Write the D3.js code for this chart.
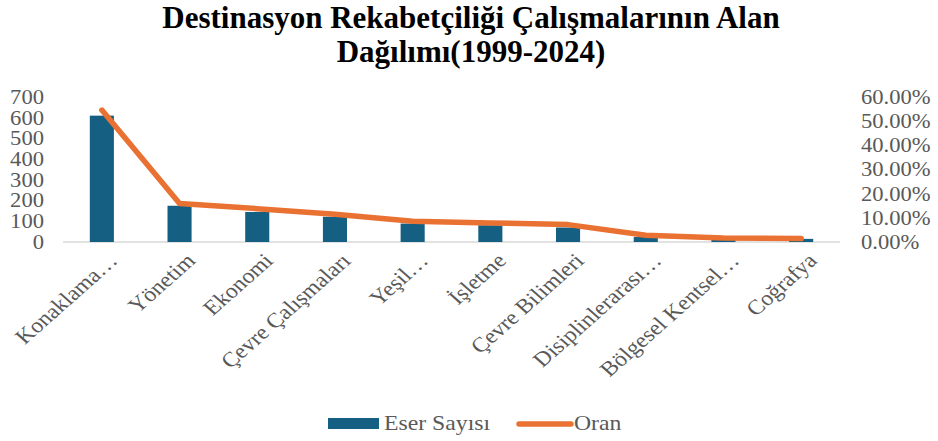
<!DOCTYPE html>
<html>
<head>
<meta charset="utf-8">
<script src="https://cdn.jsdelivr.net/npm/d3@7"></script>
<style>
  body { margin: 0; background: #fff; }
  text { font-family: "Liberation Serif", "Times New Roman", serif; }
</style>
</head>
<body>
<svg id="chart" width="938" height="441"></svg>
<script>
const categories = ["Konaklama…", "Yönetim", "Ekonomi", "Çevre Çalışmaları", "Yeşil…",
  "İşletme", "Çevre Bilimleri", "Disiplinlerarası…", "Bölgesel Kentsel…", "Coğrafya"];
const eserSayisi = [610, 175, 145, 122, 89, 81, 70, 24, 14, 15];
const oran = [0.546, 0.159, 0.138, 0.115, 0.086, 0.079, 0.072, 0.028, 0.017, 0.014];
const leftTicks = [0, 100, 200, 300, 400, 500, 600, 700];
const rightTicks = [0, 0.1, 0.2, 0.3, 0.4, 0.5, 0.6];

const svg = d3.select("#chart");
const width = +svg.attr("width");
const margin = { top: 97, bottom: 242, left: 63, right: 840 };
const barColor = "#156082";
const lineColor = "#E97132";
const textColor = "#595959";
const stretch = "scale(1.13,1)"; // labels in the picture are a bit wide

const x = d3.scaleBand()
  .domain(categories)
  .range([margin.left, margin.right])
  .paddingInner(0.69)
  .paddingOuter(0.345);

const y = d3.scaleLinear().domain([0, 700]).range([margin.bottom, margin.top]);
const y2 = d3.scaleLinear().domain([0, 0.6]).range([margin.bottom, margin.top]);

// title
svg.append("text")
  .attr("text-anchor", "middle")
  .attr("font-weight", "bold")
  .attr("font-size", 31)
  .attr("fill", "#000")
  .selectAll("tspan")
  .data(["Destinasyon Rekabetçiliği Çalışmalarının Alan", "Dağılımı(1999-2024)"])
  .enter()
  .append("tspan")
  .attr("x", width / 2 + 2)
  .attr("y", (d, i) => 28 + i * 34)
  .text(d => d);

// base line
svg.append("line")
  .attr("x1", margin.left)
  .attr("x2", margin.right)
  .attr("y1", y(0))
  .attr("y2", y(0))
  .attr("stroke", "#d9d9d9")
  .attr("stroke-width", 1.5);

// left axis
const leftAxis = svg.append("g")
  .attr("transform", `translate(44,0)`)
  .call(d3.axisLeft(y).tickValues(leftTicks).tickSize(0).tickPadding(0));
leftAxis.select(".domain").remove();
leftAxis.selectAll("text")
  .attr("font-size", 20)
  .attr("font-family", "Liberation Serif, serif")
  .attr("fill", textColor)
  .attr("transform", stretch);

// right axis
const rightAxis = svg.append("g")
  .attr("transform", `translate(861,0)`)
  .call(d3.axisRight(y2).tickValues(rightTicks).tickSize(0).tickPadding(0).tickFormat(d3.format(".2%")));
rightAxis.select(".domain").remove();
rightAxis.selectAll("text")
  .attr("font-size", 20)
  .attr("font-family", "Liberation Serif, serif")
  .attr("fill", textColor)
  .attr("transform", stretch);

// bars
svg.append("g")
  .selectAll("rect")
  .data(categories)
  .enter()
  .append("rect")
  .attr("x", d => x(d))
  .attr("width", x.bandwidth())
  .attr("y", (d, i) => y(eserSayisi[i]))
  .attr("height", (d, i) => y(0) - y(eserSayisi[i]))
  .attr("fill", barColor);

// line
const line = d3.line()
  .x((d, i) => x(categories[i]) + x.bandwidth() / 2)
  .y(d => y2(d));

svg.append("path")
  .datum(oran)
  .attr("d", line)
  .attr("fill", "none")
  .attr("stroke", lineColor)
  .attr("stroke-width", 5.5)
  .attr("stroke-linecap", "round")
  .attr("stroke-linejoin", "round");

// x labels
svg.append("g")
  .selectAll("text")
  .data(categories)
  .enter()
  .append("text")
  .attr("transform", d => `translate(${x(d) + x.bandwidth() / 2 + 17},${y(0) + 20}) ${stretch} rotate(-45)`)
  .attr("text-anchor", "end")
  .attr("font-size", 21)
  .attr("fill", textColor)
  .text(d => d);

// legend
const legend = svg.append("g");
legend.append("rect")
  .attr("x", 328).attr("y", 418).attr("width", 51).attr("height", 11)
  .attr("fill", barColor);
legend.append("text")
  .attr("transform", `translate(384,430) ${stretch}`)
  .attr("font-size", 21).attr("fill", textColor)
  .text("Eser Sayısı");
legend.append("line")
  .attr("x1", 519).attr("x2", 571).attr("y1", 424).attr("y2", 424)
  .attr("stroke", lineColor).attr("stroke-width", 5.5).attr("stroke-linecap", "round");
legend.append("text")
  .attr("transform", `translate(574,430) ${stretch}`)
  .attr("font-size", 21).attr("fill", textColor)
  .text("Oran");
</script>
</body>
</html>
